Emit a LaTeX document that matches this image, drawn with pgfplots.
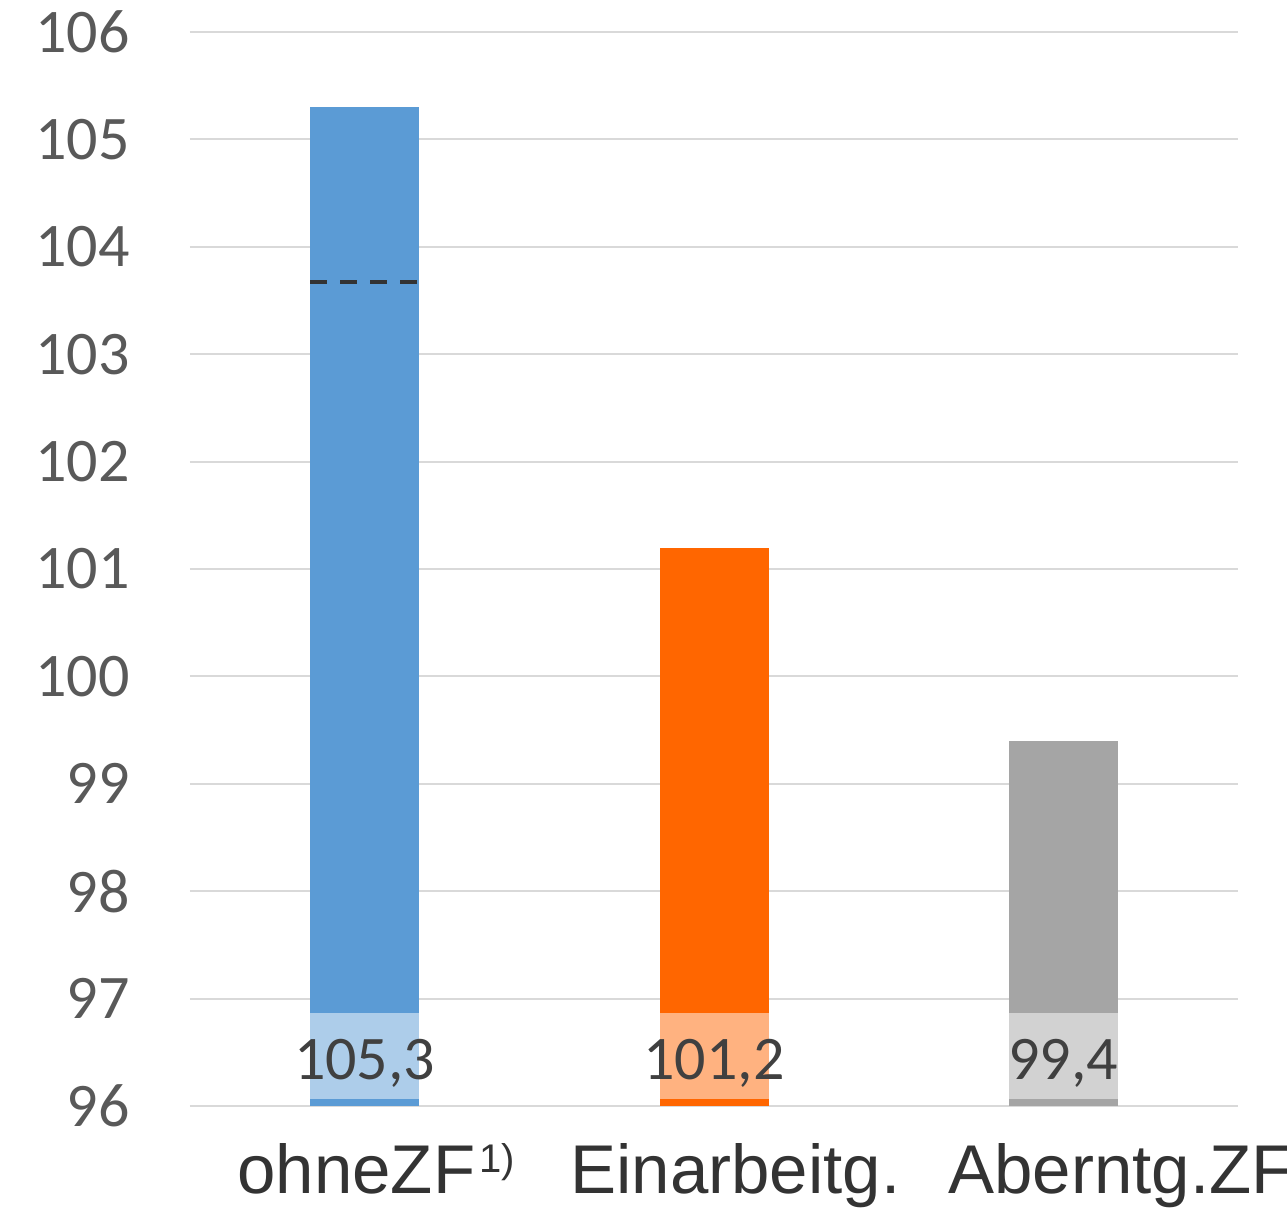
\documentclass[border=0pt]{standalone}
\usepackage{pgfplots}
\pgfplotsset{compat=1.18}
\usepackage{fontspec}
\setmainfont{Carlito}
\newfontfamily\arialfont{Liberation Sans}
\definecolor{barblue}{HTML}{5B9BD5}
\definecolor{barorange}{HTML}{FF6600}
\definecolor{bargray}{HTML}{A5A5A5}
\definecolor{gridgray}{HTML}{D9D9D9}
\definecolor{ticktext}{HTML}{595959}
\definecolor{labeltext}{HTML}{404040}
\definecolor{cattext}{HTML}{333333}
\definecolor{dashdark}{HTML}{333333}

\begin{document}
\begin{tikzpicture}
\begin{axis}[
  x=174.667pt, y=53.7pt,
  xmin=-0.5, xmax=2.5, ymin=96, ymax=106,
  ytick={96,...,106},
  xtick=\empty,
  axis line style={draw=none},
  major tick length=0pt,
  ymajorgrids, grid style={gridgray, line width=1pt},
  yticklabel style={font=\fontsize{31pt}{31pt}\selectfont, text=ticktext, inner sep=0pt, xshift=-30pt},
  /pgf/number format/assume math mode=true,
  clip=true,
]
% index values
\addplot[ybar, bar width=54.5pt, bar shift=0pt, fill=barblue, draw=none] coordinates {(0,105.3)};
\addplot[ybar, bar width=54.5pt, bar shift=0pt, fill=barorange, draw=none] coordinates {(1,101.2)};
\addplot[ybar, bar width=54.5pt, bar shift=0pt, fill=bargray, draw=none] coordinates {(2,99.4)};
% reference level inside the first bar
\addplot[draw=dashdark, line width=2pt, dash pattern=on 8.5pt off 6.5pt, mark=none]
  coordinates {(-0.156,103.67) (0.156,103.67)};
% value labels on light boxes
\foreach \xi/\lab in {0/{105,3}, 1/{101,2}, 2/{99,4}} {
  \edef\temp{\noexpand\node[fill=white, fill opacity=0.5, text opacity=1, inner sep=0pt,
    minimum width=54.5pt, minimum height=43pt, text height=24pt, text depth=0pt,
    text=labeltext, font=\noexpand\fontsize{31pt}{31pt}\noexpand\selectfont]
    at (axis cs:\xi,96.466) {\lab};}
  \temp
}
\coordinate (sw) at (rel axis cs:0,0);
\coordinate (ne) at (rel axis cs:1,1);
\end{axis}
% category names
\begin{scope}[every node/.style={anchor=base west, inner sep=0pt, text=cattext,
    font=\arialfont\fontsize{34.5pt}{36pt}\selectfont}]
\node at ([xshift=23.5pt, yshift=-44pt]sw) {ohneZF\kern2pt\raisebox{10.5pt}{\fontsize{20pt}{20pt}\selectfont 1)}};
\node at ([xshift=190pt, yshift=-44pt]sw) {Einarbeitg.};
\node at ([xshift=379pt, yshift=-44pt]sw) {Aberntg.ZF};
\end{scope}
\pgfresetboundingbox
\path ([xshift=-95pt,yshift=-52.5pt]sw) rectangle ([xshift=24.5pt,yshift=16pt]ne);
\end{tikzpicture}
\end{document}
